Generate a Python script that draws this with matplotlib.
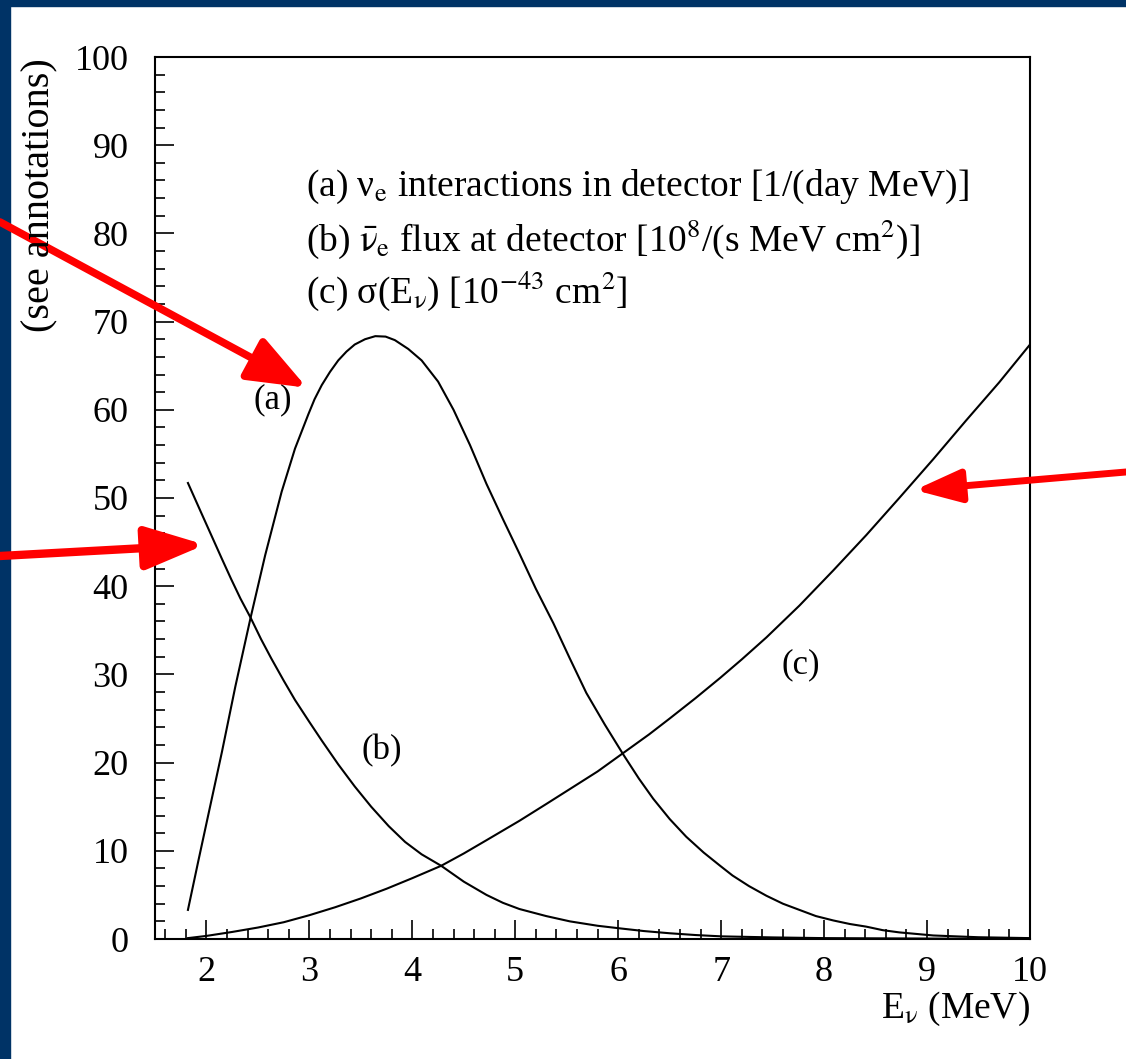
import matplotlib
matplotlib.use("Agg")
import matplotlib.pyplot as plt
from matplotlib.patches import Rectangle
from matplotlib.ticker import MultipleLocator

# values
e_a = [1.82, 1.92, 2.02, 2.15, 2.28, 2.43, 2.57, 2.73, 2.86, 2.99, 3.05, 3.12,
       3.20, 3.28, 3.36, 3.44, 3.54, 3.64, 3.74, 3.83, 3.96, 4.09, 4.25, 4.40,
       4.56, 4.72, 4.88, 5.04, 5.20, 5.37, 5.53, 5.69, 5.87, 6.05, 6.20, 6.34,
       6.50, 6.66, 6.83, 6.99, 7.11, 7.27, 7.44, 7.60, 7.76, 7.92, 8.09, 8.25,
       8.41, 8.57, 8.73, 9.06, 9.50, 10.0]
y_a = [3.3, 8.8, 14.2, 21.2, 28.6, 36.5, 43.5, 50.7, 55.6, 59.5, 61.2, 62.8,
       64.3, 65.6, 66.6, 67.4, 68.0, 68.35, 68.3, 67.9, 66.9, 65.6, 63.2, 60.0,
       56.0, 51.6, 47.6, 43.7, 39.7, 35.8, 31.8, 27.9, 24.3, 20.9, 18.2, 15.9,
       13.6, 11.6, 9.8, 8.3, 7.2, 6.0, 4.9, 4.0, 3.3, 2.6, 2.1, 1.7,
       1.4, 1.0, 0.75, 0.4, 0.2, 0.1]

e_b = [1.82, 1.95, 2.05, 2.15, 2.24, 2.33, 2.43, 2.53, 2.63, 2.75, 2.86, 3.00,
       3.12, 3.28, 3.44, 3.60, 3.77, 3.93, 4.09, 4.28, 4.50, 4.72, 4.88, 5.04,
       5.30, 5.53, 5.80, 6.02, 6.25, 6.50, 6.75, 7.00, 7.50, 8.00, 9.00, 10.0]
y_b = [51.7, 48.3, 45.7, 43.1, 40.8, 38.6, 36.4, 34.0, 31.8, 29.3, 27.1, 24.6,
       22.5, 19.8, 17.3, 15.0, 12.8, 11.0, 9.6, 8.3, 6.5, 5.0, 4.1, 3.4,
       2.6, 2.0, 1.5, 1.2, 0.9, 0.65, 0.45, 0.3, 0.18, 0.1, 0.05, 0.0]

e_c = [1.82, 2.00, 2.25, 2.50, 2.75, 3.00, 3.25, 3.50, 3.75, 4.00, 4.28, 4.50,
       4.72, 4.88, 5.04, 5.30, 5.53, 5.80, 6.05, 6.30, 6.50, 6.75, 6.99, 7.20,
       7.44, 7.76, 8.09, 8.41, 8.73, 9.06, 9.38, 9.70, 10.0]
y_c = [0.1, 0.35, 0.8, 1.3, 1.9, 2.7, 3.6, 4.6, 5.7, 6.9, 8.3, 9.7,
       11.2, 12.3, 13.4, 15.3, 17.0, 19.0, 21.1, 23.2, 25.0, 27.3, 29.6, 31.7,
       34.2, 37.8, 41.8, 45.8, 50.0, 54.4, 58.8, 63.1, 67.4]

legend_lines = [
    r"(a) ν$_{\rm e}$ interactions in detector [1/(day MeV)]",
    r"(b) $\bar{\mathrm{\nu}}_{\rm e}$ flux at detector [10$^8$/(s MeV cm$^2$)]",
    r"(c) σ(E$_{\rm ν}$) [10$^{-43}$ cm$^2$]",
]

plt.rcParams['font.family'] = ['Liberation Serif', 'DejaVu Serif']
plt.rcParams['mathtext.fontset'] = 'stix'

fig = plt.figure(figsize=(11.26, 10.59), dpi=100)
ax = fig.add_axes([155 / 1126, 1 - 939 / 1059, 875 / 1126, 882 / 1059])

# navy frame strips at left and top (kept under everything else)
fig.patches.append(Rectangle((0, 0), 10 / 1126, 1, transform=fig.transFigure,
                             color='#003366', zorder=-5))
fig.patches.append(Rectangle((0, 1 - 6 / 1059), 1, 6 / 1059, transform=fig.transFigure,
                             color='#003366', zorder=-5))

ax.plot(e_a, y_a, color='black', lw=1.5)
ax.plot(e_b, y_b, color='black', lw=1.5)
ax.plot(e_c, y_c, color='black', lw=1.5)

ax.set_xlim(1.5, 10)
ax.set_ylim(0, 100)
ax.xaxis.set_major_locator(MultipleLocator(1))
ax.xaxis.set_minor_locator(MultipleLocator(0.2))
ax.yaxis.set_major_locator(MultipleLocator(10))
ax.yaxis.set_minor_locator(MultipleLocator(2))
ax.set_xticks(range(2, 11))
ax.tick_params(which='both', direction='in', top=False, right=False,
               labelsize=26, width=1.2)
ax.tick_params(which='major', length=13.5)
ax.tick_params(which='minor', length=7)
ax.tick_params(axis='x', which='major', pad=12)
ax.tick_params(axis='y', which='major', pad=19)
for sp in ax.spines.values():
    sp.set_linewidth(1.5)

ax.set_xlabel(r"E$_{\rm ν}$ (MeV)", fontsize=27)
ax.xaxis.set_label_coords(1.0, -0.058)
ax.xaxis.label.set_horizontalalignment('right')

fig.text(40 / 1126, 1 - 58 / 1059, "(see annotations)", rotation=90,
         ha='center', va='top', fontsize=29)

for i, line in enumerate(legend_lines):
    ax.text(2.97, 85.3 - i * 5.95, line, fontsize=27, va='center', ha='left')

ax.text(2.64, 61.1, "(a)", fontsize=25, ha='center', va='center')
ax.text(3.70, 21.4, "(b)", fontsize=25, ha='center', va='center')
ax.text(7.77, 31.1, "(c)", fontsize=25, ha='center', va='center')

# red pointer arrows
arrows = [
    ((2.976, 62.5), (0.0, 1 - 222 / 1059), 36, 14, 5.5),
    ((1.985, 44.7), (0.0, 1 - 556 / 1059), 36, 13, 6.0),
    ((8.88, 50.9), (1.0, 1 - 472 / 1059), 28, 10, 5.0),
]
for tip, tail, hl, hw, lw in arrows:
    ax.annotate("", xy=tip, xycoords='data', xytext=tail, textcoords='figure fraction',
                arrowprops=dict(arrowstyle=f"-|>,head_length={hl},head_width={hw}",
                                mutation_scale=1, color='red', lw=lw,
                                shrinkA=0, shrinkB=0),
                annotation_clip=False, zorder=10)

fig.savefig("out.png", dpi=100)
